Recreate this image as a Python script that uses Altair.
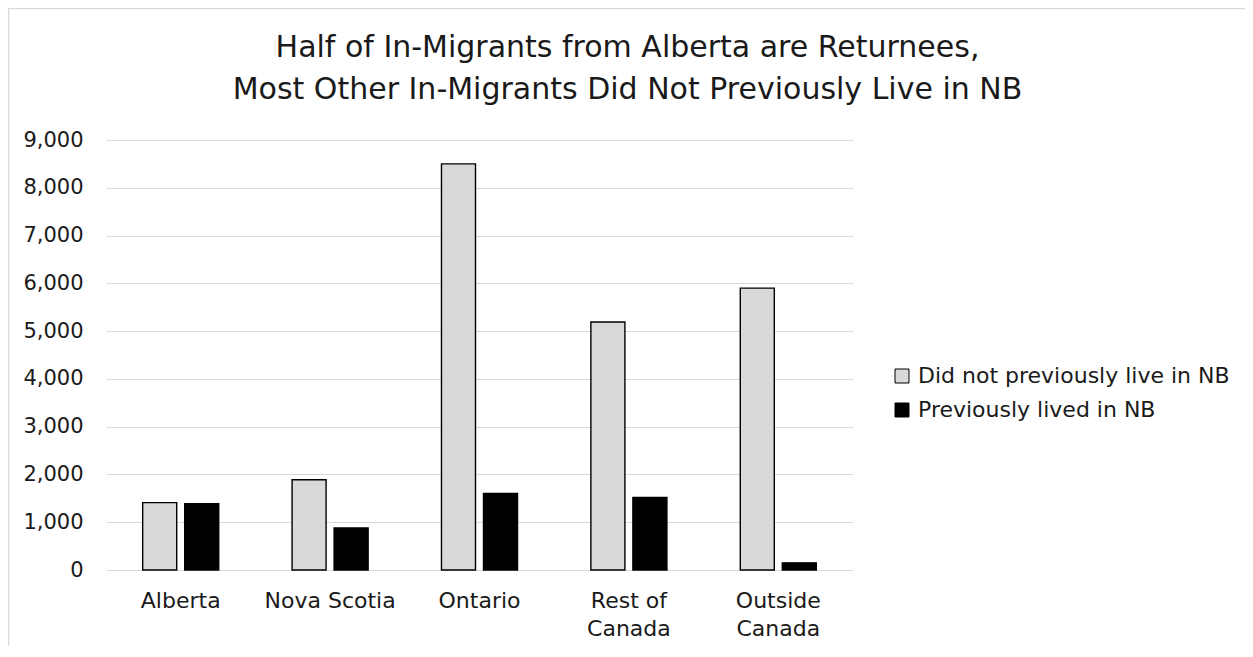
import json
import altair as alt
import pandas as pd

categories = ["Alberta", "Nova Scotia", "Ontario", "Rest of Canada", "Outside Canada"]
series = ["Did not previously live in NB", "Previously lived in NB"]
not_prev = [1410, 1890, 8500, 5190, 5900]
prev = [1390, 880, 1600, 1520, 150]
label_lines = {"Rest of Canada": ["Rest of", "Canada"], "Outside Canada": ["Outside", "Canada"]}
y_ticks = [0, 1000, 2000, 3000, 4000, 5000, 6000, 7000, 8000, 9000]
colors = ["#d9d9d9", "#000000"]
title_lines = [
    "Half of In-Migrants from Alberta are Returnees,",
    "Most Other In-Migrants Did Not Previously Live in NB",
]

rows = []
for c, a, b in zip(categories, not_prev, prev):
    rows.append({"region": c, "group": series[0], "value": a})
    rows.append({"region": c, "group": series[1], "value": b})
df = pd.DataFrame(rows)

expr = "datum.value"
for k, v in label_lines.items():
    expr = f"datum.value == '{k}' ? {json.dumps(v)} : ({expr})"

FONT = "DejaVu Sans"
TEXT = "#1a1a1a"

bars = alt.Chart(df).mark_bar(stroke="black", strokeWidth=1.4).encode(
    x=alt.X(
        "region:N",
        sort=categories,
        scale=alt.Scale(paddingInner=0.491, paddingOuter=0.2455),
        axis=alt.Axis(
            title=None, labelAngle=0, labelExpr=expr, labelFontSize=22,
            labelPadding=20, labelLineHeight=28, domain=False, ticks=False,
            labelColor=TEXT, labelFont=FONT, grid=False,
        ),
    ),
    xOffset=alt.XOffset("group:N", sort=series,
                        scale=alt.Scale(paddingInner=0.19, paddingOuter=0)),
    y=alt.Y(
        "value:Q",
        scale=alt.Scale(domain=[0, 9000], nice=False),
        axis=alt.Axis(
            title=None, values=y_ticks, format=",.0f", domain=False, ticks=False,
            tickSize=0, labelPadding=23, labelFontSize=21, labelColor=TEXT,
            labelFont=FONT, gridColor="#d9d9d9", gridWidth=1.2,
        ),
    ),
    color=alt.Color(
        "group:N",
        sort=series,
        scale=alt.Scale(domain=series, range=colors),
        legend=alt.Legend(
            title=None, orient="none", legendX=785, legendY=225,
            symbolType="square", symbolSize=196, symbolStrokeColor="black",
            symbolStrokeWidth=1, labelFontSize=22, labelOffset=5,
            rowPadding=12, padding=0, labelLimit=500, labelColor=TEXT,
            labelFont=FONT, symbolOpacity=1,
        ),
    ),
)

frame = alt.Chart(pd.DataFrame({"f": [0]})).mark_rect(
    fill="transparent", stroke="#d9d9d9", strokeWidth=1.5
).encode(
    x=alt.value(-97.5), x2=alt.value(1300),
    y=alt.value(-131.5), y2=alt.value(700),
)

chart = alt.layer(frame, bars).properties(
    width=747,
    height=430,
    padding={"left": 98, "top": 132, "right": 392, "bottom": 76},
    autosize=alt.AutoSizeParams(type="none"),
    title=alt.Title(
        text=title_lines, fontSize=30, font=FONT, fontWeight="normal",
        anchor="middle", frame="group", dx=148, offset=0, dy=97,
        lineHeight=42, color=TEXT,
    ),
).configure(background="white").configure_view(strokeWidth=0, stroke="transparent")

chart.save("out.html", embed_options={"renderer": "svg", "actions": False})
